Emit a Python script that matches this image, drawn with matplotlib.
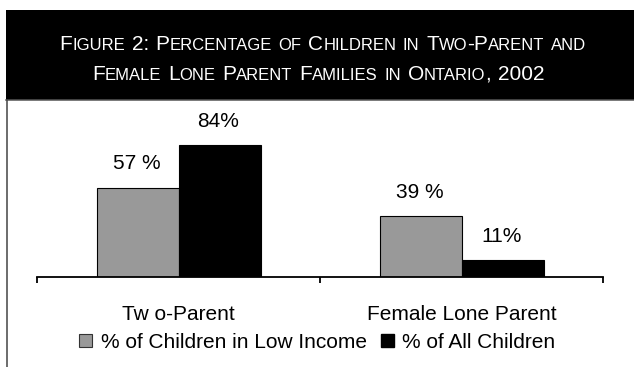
import matplotlib
matplotlib.use("Agg")
import matplotlib.pyplot as plt
from matplotlib.patches import Rectangle, Patch
from matplotlib.lines import Line2D

# data
categories = ["Tw o-Parent", "Female Lone Parent"]
low_income = [57, 39]
all_children = [84, 11]
low_income_labels = ["57 %", "39 %"]
all_children_labels = ["84%", "11%"]
series_names = ["% of Children in Low Income", "% of All Children"]
title_lines = [
    "Figure 2: Percentage of Children in Two-Parent and",
    "Female Lone Parent Families in Ontario, 2002",
]

W, H = 634, 367
fig = plt.figure(figsize=(W / 100, H / 100), dpi=100)
fig.patch.set_facecolor("white")

body_font = "Liberation Sans"
title_font = "Liberation Sans"
fs = 15

def px(x, y):
    # pixel coords (from top-left) -> figure fraction
    return x / W, 1 - y / H

# black title band and the box outline below it
x0, y0 = px(6, 100)
fig.add_artist(Rectangle((x0, y0), 1 - x0, 90 / H, transform=fig.transFigure,
                         facecolor="black", edgecolor="none", zorder=0))
fig.add_artist(Line2D([x0, 1], [y0, y0], transform=fig.transFigure,
                      color="#555555", lw=1.1))
fig.add_artist(Line2D([6.5 / W, 6.5 / W], [0, y0], transform=fig.transFigure,
                      color="#444444", lw=1.1))

# small-caps title built from runs of two sizes
renderer = fig.canvas.get_renderer()
big, small = 15, 12

def runs(word):
    out = []
    for ch in word:
        lower = ch.islower()
        if out and out[-1][1] == lower:
            out[-1][0] += ch.upper()
        else:
            out.append([ch.upper(), lower])
    return out

def draw_line(line, cx, base_y):
    pieces = []
    for w_i, word in enumerate(line.split(" ")):
        for s, lower in runs(word):
            t = fig.text(0, 0, s, color="white", fontsize=small if lower else big,
                         family=title_font, va="baseline", ha="left")
            pieces.append((t, t.get_window_extent(renderer).width, w_i))
    gap = 0.32 * big / 0.72
    total = sum(p[1] for p in pieces) + gap * (len(line.split(" ")) - 1)
    x = cx - total / 2
    last = 0
    for t, w, w_i in pieces:
        if w_i != last:
            x += gap
            last = w_i
        t.set_position(px(x, base_y))
        x += w

draw_line(title_lines[0], 323, 50)
draw_line(title_lines[1], 318, 80)

# bar chart
ax = fig.add_axes([37.3 / W, (H - 277.3) / H, 566 / W, 167.3 / H])
pos = range(len(categories))
bw = 0.29
gray_bars = ax.bar([p - bw / 2 for p in pos], low_income, bw, color="#999999",
                   edgecolor="black", linewidth=0.8)
black_bars = ax.bar([p + bw / 2 for p in pos], all_children, bw, color="black",
                    edgecolor="black", linewidth=0.8)
for bars, labels in [(gray_bars, low_income_labels), (black_bars, all_children_labels)]:
    for b, lab in zip(bars, labels):
        ax.annotate(lab, (b.get_x() + b.get_width() / 2, b.get_height()),
                    xytext=(-1, 17), textcoords="offset points", ha="center",
                    va="center", fontsize=fs, family=body_font)

ax.set_xlim(-0.5, 1.5)
ax.set_ylim(0, 106.2)
for s in ["left", "right", "top"]:
    ax.spines[s].set_visible(False)
ax.spines["bottom"].set_linewidth(1.3)
ax.set_yticks([])
ax.set_xticks(list(pos))
ax.set_xticklabels(categories, fontsize=fs, family=body_font)
ax.set_xticks([-0.5, 0.5, 1.5], minor=True)
ax.tick_params(axis="x", which="major", length=0, pad=20)
ax.tick_params(axis="x", which="minor", length=4.2, width=1.3, direction="out")
ax.patch.set_alpha(0)

handles = [Patch(facecolor="#999999", edgecolor="#333333", linewidth=0.8),
           Patch(facecolor="black", edgecolor="black")]
fig.legend(handles, series_names, loc="center", bbox_to_anchor=px(317.5, 342.5),
           ncol=2, frameon=False, handlelength=0.62, handleheight=0.6,
           handletextpad=0.4, columnspacing=0.7,
           prop={"family": body_font, "size": fs})

fig.savefig("out.png", dpi=100)
